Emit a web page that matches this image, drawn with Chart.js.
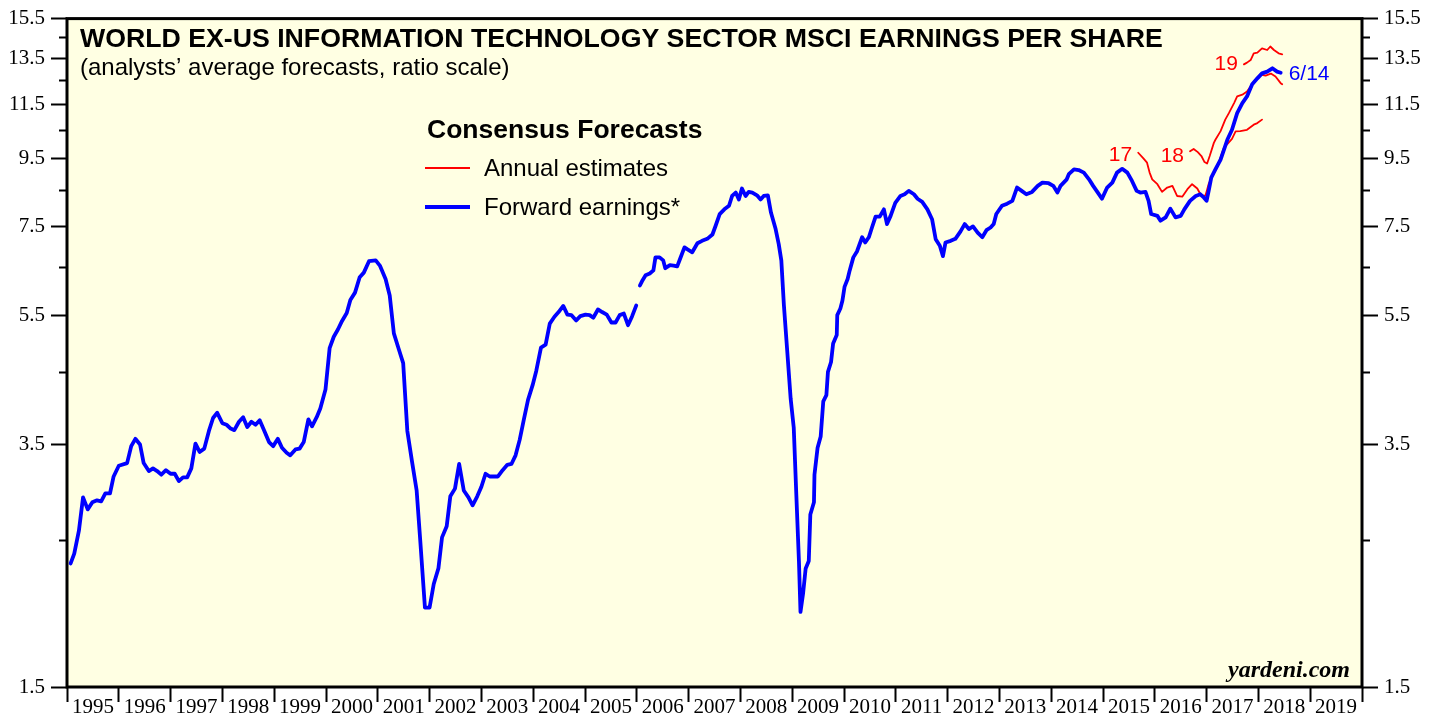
<!DOCTYPE html>
<html>
<head>
<meta charset="utf-8">
<title>World ex-US Information Technology Sector MSCI EPS</title>
<script src="https://cdn.jsdelivr.net/npm/chart.js@4.4.1/dist/chart.umd.min.js"></script>
<style>
  html, body { margin: 0; padding: 0; background: #fff; }
  #wrap { width: 1437px; height: 719px; }
</style>
</head>
<body>
<div id="wrap"><canvas id="epsChart" width="1437" height="719"></canvas></div>
<script>
// forward earnings, monthly until end of 2005
const fwdMonthlyDates = [1995.07,1995.14,1995.23,1995.31,1995.40,1995.49,1995.58,1995.66,1995.74,1995.83,1995.90,
  1996.00,1996.16,1996.24,1996.32,1996.41,1996.48,1996.58,1996.66,1996.74,1996.82,1996.91,
  1997.00,1997.08,1997.16,1997.24,1997.32,1997.40,1997.48,1997.56,1997.65,1997.74,1997.82,1997.90,
  1998.00,1998.08,1998.16,1998.23,1998.32,1998.40,1998.48,1998.56,1998.64,1998.72,1998.81,1998.90,1998.98,
  1999.07,1999.15,1999.24,1999.31,1999.41,1999.49,1999.57,1999.66,1999.73,1999.82,1999.89,1999.99,
  2000.07,2000.15,2000.23,2000.31,2000.40,2000.47,2000.56,2000.65,2000.73,2000.83,2000.96,
  2001.04,2001.15,2001.23,2001.31,2001.41,2001.49,2001.57,2001.66,2001.75,2001.82,2001.91,
  2002.00,2002.08,2002.17,2002.24,2002.33,2002.40,2002.49,2002.57,2002.66,2002.75,2002.83,2002.92,
  2003.00,2003.08,2003.16,2003.24,2003.32,2003.41,2003.50,2003.58,2003.66,2003.74,2003.82,2003.90,2003.99,
  2004.06,2004.15,2004.24,2004.32,2004.41,2004.49,2004.58,2004.66,2004.74,2004.83,2004.91,
  2005.01,2005.09,2005.16,2005.25,2005.33,2005.42,2005.51,2005.59,2005.67,2005.75,2005.83,2005.91,2005.99];
const fwdMonthlyValues = [2.31,2.39,2.59,2.91,2.79,2.86,2.88,2.87,2.95,2.95,
  3.13,3.25,3.28,3.48,3.57,3.50,3.28,3.19,3.22,3.19,
  3.15,3.20,3.16,3.16,3.08,3.12,3.12,3.22,3.51,3.41,
  3.45,3.67,3.84,3.91,3.77,3.75,3.70,3.68,3.79,3.85,
  3.72,3.79,3.75,3.81,3.67,3.53,3.48,3.57,3.46,3.40,
  3.37,3.44,3.45,3.53,3.82,3.73,3.85,3.97,4.24,4.90,
  5.10,5.23,5.39,5.54,5.80,5.95,6.28,6.38,6.64,6.66,
  6.54,6.24,5.89,5.16,4.87,4.65,3.67,3.30,2.98,2.50,
  1.98,1.98,2.15,2.27,2.53,2.63,2.92,3.00,3.27,2.98,
  2.91,2.83,2.92,3.02,3.16,3.13,3.13,3.13,3.20,3.26,
  3.27,3.37,3.56,3.82,4.09,4.31,4.53,4.91,4.96,5.34,
  5.47,5.56,5.68,5.51,5.50,5.40,5.48,5.51,5.50,5.45,
  5.61,5.56,5.51,5.36,5.36,5.50,5.53,5.31,5.48,5.69];

// forward earnings, weekly from 2006
const fwdWeeklyDates = [2006.06,2006.10,2006.17,2006.25,2006.32,2006.36,2006.44,2006.51,2006.55,2006.64,2006.71,2006.78,2006.84,2006.92,2006.98,
  2007.07,2007.17,2007.26,2007.36,2007.46,2007.52,2007.60,2007.69,2007.78,2007.84,2007.91,2007.97,
  2008.03,2008.10,2008.16,2008.23,2008.32,2008.39,2008.45,2008.53,2008.59,2008.68,2008.74,2008.79,2008.84,2008.90,2008.97,
  2009.03,2009.08,2009.13,2009.16,2009.21,2009.26,2009.32,2009.35,2009.42,2009.43,2009.49,2009.55,2009.60,2009.66,2009.69,2009.75,2009.79,2009.86,2009.87,2009.93,2009.97,
  2010.01,2010.07,2010.11,2010.18,2010.25,2010.35,2010.41,2010.48,2010.54,2010.61,2010.69,2010.77,2010.83,2010.90,2010.99,
  2011.09,2011.17,2011.25,2011.35,2011.42,2011.51,2011.61,2011.70,2011.77,2011.85,2011.91,2011.96,
  2012.06,2012.15,2012.25,2012.33,2012.41,2012.49,2012.58,2012.67,2012.75,2012.83,2012.89,2012.94,
  2013.05,2013.15,2013.25,2013.34,2013.43,2013.52,2013.63,2013.74,2013.83,2013.95,
  2014.04,2014.12,2014.18,2014.30,2014.34,2014.44,2014.53,2014.63,2014.73,2014.81,2014.90,2014.98,
  2015.08,2015.18,2015.27,2015.37,2015.47,2015.56,2015.65,2015.72,2015.82,2015.88,2015.93,
  2016.05,2016.11,2016.21,2016.30,2016.40,2016.50,2016.57,2016.68,2016.79,2016.88,2016.95,
  2017.00,2017.04,2017.09,2017.17,2017.27,2017.40,2017.49,2017.59,2017.69,2017.78,2017.88,2017.98,
  2018.07,2018.17,2018.27,2018.36,2018.43];
const fwdWeeklyValues = [6.10,6.19,6.32,6.36,6.43,6.73,6.73,6.66,6.48,6.55,6.54,6.52,6.71,6.97,6.92,
  6.85,7.07,7.13,7.18,7.29,7.51,7.83,7.96,8.06,8.34,8.44,8.24,
  8.56,8.34,8.46,8.44,8.36,8.24,8.34,8.36,7.87,7.43,7.05,6.66,5.69,4.90,4.11,
  3.71,2.93,2.33,1.95,2.08,2.27,2.33,2.74,2.86,3.15,3.46,3.60,4.07,4.16,4.51,4.67,4.98,5.13,5.50,5.63,5.79,
  6.07,6.24,6.43,6.73,6.87,7.22,7.09,7.22,7.47,7.76,7.76,7.96,7.56,7.78,8.14,
  8.34,8.39,8.49,8.39,8.26,8.17,7.96,7.69,7.17,7.01,6.76,7.09,
  7.13,7.18,7.37,7.56,7.43,7.50,7.34,7.22,7.40,7.47,7.56,7.83,
  8.06,8.12,8.20,8.59,8.49,8.39,8.46,8.64,8.74,8.72,
  8.64,8.44,8.64,8.84,9.00,9.15,9.13,9.05,8.84,8.64,8.44,8.26,
  8.59,8.74,9.05,9.17,9.05,8.79,8.49,8.44,8.46,8.20,7.83,
  7.78,7.65,7.74,7.98,7.74,7.78,7.96,8.20,8.34,8.39,8.29,
  8.20,8.49,8.89,9.15,9.47,10.15,10.51,11.14,11.54,11.81,12.32,12.58,
  12.80,12.88,13.03,12.88,12.83];

// annual consensus estimates
const est17Dates = [2015.68,2015.78,2015.85,2015.90,2015.95,2016.05,2016.14,2016.24,2016.34,2016.43,2016.53,2016.63,2016.72,2016.82,2016.90,2016.98,
  2017.04,2017.13,2017.20,2017.27,2017.33,2017.40,2017.49,2017.56,2017.65,2017.78,2017.91,2017.98,2018.07];
const est17Values = [9.70,9.51,9.37,9.05,8.84,8.69,8.46,8.59,8.64,8.34,8.32,8.54,8.69,8.56,8.34,8.36,
  8.70,9.00,9.20,9.55,9.85,10.00,10.18,10.45,10.46,10.51,10.70,10.76,10.89];
const est18Dates = [2016.68,2016.75,2016.83,2016.90,2016.96,2017.01,2017.06,2017.14,2017.17,2017.27,2017.36,2017.43,2017.53,2017.59,2017.69,2017.78,2017.88,2017.95,
  2018.04,2018.14,2018.24,2018.33,2018.43,2018.46];
const est18Values = [9.75,9.83,9.72,9.59,9.39,9.34,9.59,10.04,10.15,10.46,10.89,11.14,11.54,11.81,11.88,12.01,12.32,12.54,
  12.75,12.70,12.79,12.66,12.37,12.32];
const est19Dates = [2017.72,2017.78,2017.85,2017.91,2017.98,2018.07,2018.17,2018.23,2018.30,2018.39,2018.46];
const est19Values = [13.21,13.29,13.41,13.73,13.76,13.97,13.89,14.06,13.89,13.73,13.68];

const yTickValues = [1.5,2.5,3.5,4.5,5.5,6.5,7.5,8.5,9.5,10.5,11.5,12.5,13.5,14.5,15.5];
const yLabelled = [1.5,3.5,5.5,7.5,9.5,11.5,13.5,15.5];
const firstYear = 1995, lastYear = 2020;

function pairs(dates, values) {
  return dates.map((d, i) => ({ x: d, y: values[i] }));
}

const BLUE = '#0000FF';
const RED = '#FF0000';

const paperPlugin = {
  id: 'paper',
  beforeDraw(chart) {
    const { ctx, chartArea: a } = chart;
    ctx.save();
    ctx.fillStyle = '#ffffff';
    ctx.fillRect(0, 0, chart.width, chart.height);
    ctx.fillStyle = '#FFFFE3';
    ctx.fillRect(a.left, a.top, a.right - a.left, a.bottom - a.top);
    ctx.restore();
  },
  afterDatasetsDraw(chart) {
    const { ctx, chartArea: a } = chart;
    const xs = chart.scales.x, ys = chart.scales.y;
    ctx.save();

    // frame
    ctx.strokeStyle = '#000';
    ctx.lineWidth = 3;
    ctx.strokeRect(a.left, a.top, a.right - a.left, a.bottom - a.top);

    // title
    ctx.fillStyle = '#000';
    ctx.textBaseline = 'alphabetic';
    ctx.textAlign = 'left';
    ctx.font = 'bold 26.7px "Liberation Sans", Arial, sans-serif';
    ctx.fillText('WORLD EX-US INFORMATION TECHNOLOGY SECTOR MSCI EARNINGS PER SHARE', a.left + 13, a.top + 28);
    ctx.font = '24px "Liberation Sans", Arial, sans-serif';
    ctx.fillText('(analysts\u2019 average forecasts, ratio scale)', a.left + 13, a.top + 56);

    // legend
    ctx.textBaseline = 'middle';
    ctx.font = 'bold 26.5px "Liberation Sans", Arial, sans-serif';
    ctx.fillText('Consensus Forecasts', 427, 131);
    ctx.font = '24px "Liberation Sans", Arial, sans-serif';
    ctx.strokeStyle = RED;
    ctx.lineWidth = 1.8;
    ctx.beginPath(); ctx.moveTo(425, 168); ctx.lineTo(470, 168); ctx.stroke();
    ctx.fillText('Annual estimates', 484, 169);
    ctx.strokeStyle = BLUE;
    ctx.lineWidth = 3.8;
    ctx.beginPath(); ctx.moveTo(425, 207); ctx.lineTo(470, 207); ctx.stroke();
    ctx.fillText('Forward earnings*', 484, 208);

    // series tags
    ctx.font = '21px "Liberation Sans", Arial, sans-serif';
    ctx.fillStyle = RED;
    ctx.textAlign = 'right';
    const tags = [['17', est17Dates, est17Values, 2], ['18', est18Dates, est18Values, 5], ['19', est19Dates, est19Values, 0]];
    tags.forEach(([t, d, v, dy]) => {
      ctx.fillText(t, xs.getPixelForValue(d[0]) - 6, ys.getPixelForValue(v[0]) + dy);
    });
    ctx.fillStyle = BLUE;
    ctx.textAlign = 'left';
    const n = fwdWeeklyDates.length - 1;
    ctx.fillText('6/14', xs.getPixelForValue(fwdWeeklyDates[n]) + 8, ys.getPixelForValue(fwdWeeklyValues[n]) + 1);

    // source
    ctx.fillStyle = '#000';
    ctx.textAlign = 'right';
    ctx.textBaseline = 'alphabetic';
    ctx.font = 'italic bold 24px "Liberation Serif", "Times New Roman", serif';
    ctx.fillText('yardeni.com', a.right - 12, a.bottom - 10);

    ctx.restore();
  }
};

Chart.defaults.font.family = '"Liberation Serif", "Times New Roman", serif';
Chart.defaults.color = '#000';

function yAxis(position) {
  const left = position === 'left';
  return {
    type: 'logarithmic',
    position: position,
    min: 1.5,
    max: 15.5,
    border: { display: false },
    grid: {
      drawOnChartArea: false,
      drawTicks: true,
      tickLength: 16,
      tickWidth: 2,
      tickColor: '#000',
      tickBorderDash: (c) => {
        if (!c.tick || yLabelled.includes(c.tick.value)) return [];
        return left ? [0, 8, 8, 0] : [8, 100];
      }
    },
    afterBuildTicks: (axis) => {
      axis.ticks = yTickValues.map(v => ({ value: v }));
    },
    afterFit: (axis) => {
      axis.width = left ? 67 : 75;
    },
    ticks: {
      autoSkip: false,
      padding: 6,
      font: { size: 21 },
      callback: (v) => yLabelled.includes(v) ? v.toFixed(1) : ''
    }
  };
}

new Chart(document.getElementById('epsChart'), {
  type: 'line',
  data: {
    datasets: [
      { label: 'Forward earnings', data: pairs(fwdMonthlyDates, fwdMonthlyValues), borderColor: BLUE, borderWidth: 3.8 },
      { label: 'Forward earnings (weekly)', data: pairs(fwdWeeklyDates, fwdWeeklyValues), borderColor: BLUE, borderWidth: 3.8 },
      { label: '2017 estimates', data: pairs(est17Dates, est17Values), borderColor: RED, borderWidth: 1.8 },
      { label: '2018 estimates', data: pairs(est18Dates, est18Values), borderColor: RED, borderWidth: 1.8 },
      { label: '2019 estimates', data: pairs(est19Dates, est19Values), borderColor: RED, borderWidth: 1.8 }
    ]
  },
  options: {
    responsive: false,
    animation: false,
    layout: { padding: { top: 15, left: 0, right: 0, bottom: 0 } },
    elements: {
      point: { radius: 0 },
      line: { tension: 0, borderJoinStyle: 'round', borderCapStyle: 'round' }
    },
    plugins: {
      legend: { display: false },
      tooltip: { enabled: false }
    },
    scales: {
      x: {
        type: 'linear',
        min: firstYear,
        max: lastYear,
        border: { display: false },
        grid: {
          drawOnChartArea: false,
          drawTicks: true,
          tickLength: 15,
          tickWidth: 2,
          tickColor: '#000'
        },
        afterFit: (axis) => { axis.height = 32; },
        ticks: {
          stepSize: 1,
          autoSkip: false,
          maxRotation: 0,
          padding: -7,
          labelOffset: 25.9,
          font: { size: 21 },
          callback: (v) => v < lastYear ? String(v) : ''
        }
      },
      y: yAxis('left'),
      y2: yAxis('right')
    }
  },
  plugins: [paperPlugin]
});
</script>
</body>
</html>
